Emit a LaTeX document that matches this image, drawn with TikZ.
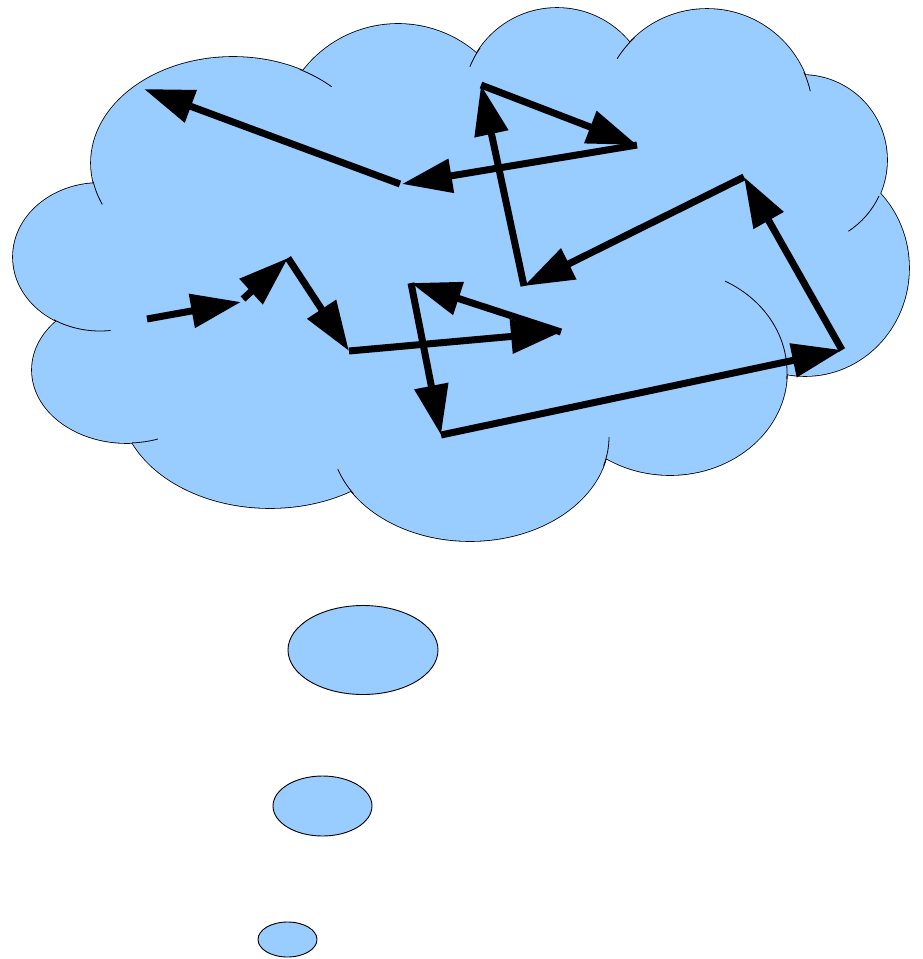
\documentclass[tikz,border=0pt]{standalone}
\usepackage{tikz}
\usetikzlibrary{arrows.meta}
\definecolor{cloudblue}{RGB}{153,204,255}
\tikzset{
    lobeedge/.style={
        draw=black,
        line width=1.6pt
    },
    lobefill/.style={
        fill=cloudblue
    },
    lobetail/.style={
        draw=black,
        line width=0.8pt
    },
    bubble/.style={
        draw=black,
        fill=cloudblue,
        line width=0.9pt
    },
    walkarrow/.style={
        -{Triangle[length=50pt,width=33pt]},
        line width=7pt
    }
}

\begin{document}
\begin{tikzpicture}[x=1pt, y=-1pt]
\useasboundingbox (0,0) rectangle (923,959);

% cloud lobes: outer edge first, then the fill over it
\foreach \cx/\cy/\rx/\ry in {100/257/87/74, 233/163/142/106, 398/144/120/120,
    557/102/94/94, 707/115/106/106, 802/160/85/85, 805/268/104/108,
    670/372/117/103, 470/437/139/104, 270/400/150/108, 127/370/95/73}
    \path[lobeedge] (\cx,\cy) ellipse [x radius=\rx, y radius=\ry];
\foreach \cx/\cy/\rx/\ry in {100/257/87/74, 233/163/142/106, 398/144/120/120,
    557/102/94/94, 707/115/106/106, 802/160/85/85, 805/268/104/108,
    670/372/117/103, 470/437/139/104, 270/400/150/108, 127/370/95/73}
    \path[lobefill] (\cx,\cy) ellipse [x radius=\rx, y radius=\ry];
\fill[cloudblue] (100,257) -- (233,163) -- (398,144) -- (557,102) -- (707,115)
    -- (802,160) -- (805,268) -- (670,372) -- (470,437) -- (270,400) -- (127,370) -- cycle;

% inner ends of the lobe arcs
\foreach \cx/\cy/\rx/\ry/\sa/\ea in {100/257/87/74/83/122, 233/163/142/106/157/170,
    233/163/142/106/298/314, 557/102/94/94/202/215, 707/115/106/106/212/227,
    707/115/106/106/336/347, 802/160/85/85/25/57, 670/372/117/103/-62/4,
    470/437/139/104/0/16, 470/437/139/104/147/162, 127/370/95/73/71/87}
    \draw[lobetail] (\cx,\cy) ++({\rx*cos(\sa)},{\ry*sin(\sa)})
        arc[start angle=\sa, end angle=\ea, x radius=\rx, y radius=\ry];

% thought bubbles
\draw[bubble] (363,650) ellipse [x radius=75, y radius=44.5];
\draw[bubble] (322.5,806) ellipse [x radius=49.5, y radius=30];
\draw[bubble] (287.5,939.5) ellipse [x radius=29.5, y radius=17.5];

% random walk
\coordinate (w0) at (147,319);
\coordinate (w1) at (241,302);
\coordinate (w1b) at (243,299);
\coordinate (w2) at (288,258);
\coordinate (w3) at (349,351);
\coordinate (w4) at (561,332);
\coordinate (w5) at (411,283);
\coordinate (w6) at (441,435);
\coordinate (w7) at (842,350);
\coordinate (w8) at (744,177);
\coordinate (w9) at (524,286);
\coordinate (w10) at (481,85);
\coordinate (w11) at (637,145);
\coordinate (w12) at (402,184);
\coordinate (w12b) at (400,184);
\coordinate (w13) at (144,89);

\draw[walkarrow] (w0) -- (w1);
\draw[walkarrow] (w1b) -- (w2);
\draw[walkarrow] (w2) -- (w3);
\draw[walkarrow] (w3) -- (w4);
\draw[walkarrow] (w4) -- (w5);
\draw[walkarrow] (w5) -- (w6);
\draw[walkarrow] (w6) -- (w7);
\draw[walkarrow] (w7) -- (w8);
\draw[walkarrow] (w8) -- (w9);
\draw[walkarrow] (w9) -- (w10);
\draw[walkarrow] (w10) -- (w11);
\draw[walkarrow] (w11) -- (w12);
\draw[walkarrow] (w12b) -- (w13);
\end{tikzpicture}
\end{document}
